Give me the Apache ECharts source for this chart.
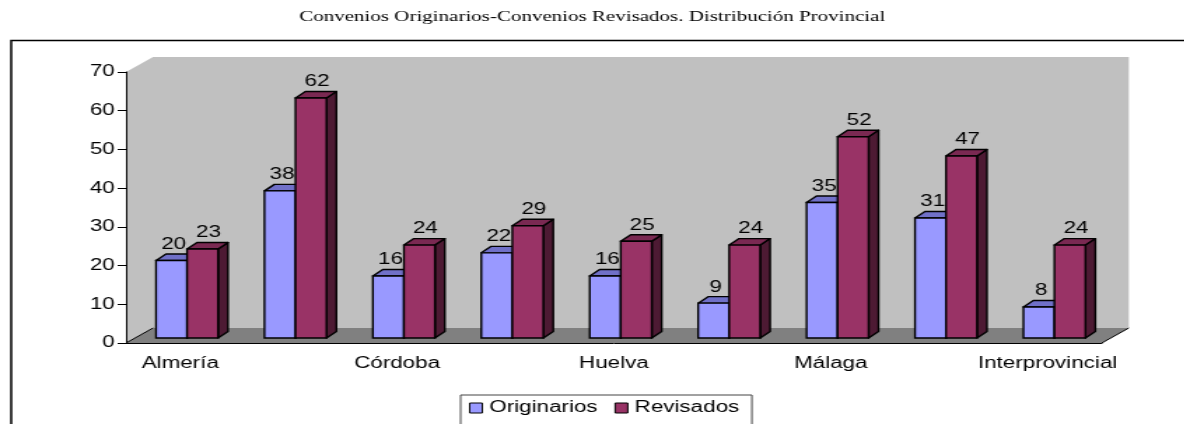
<!DOCTYPE html>
<html>
<head>
<meta charset="utf-8">
<script src="https://cdn.jsdelivr.net/npm/echarts@6/dist/echarts.min.js"></script>
<style>
  html, body { margin: 0; padding: 0; background: #fff; overflow: hidden; }
  /* the original picture is stretched horizontally, so draw narrow and stretch */
  #chart { width: 846px; height: 424px; transform: scaleX(1.4); transform-origin: 0 0; }
</style>
</head>
<body>
<div id="chart"></div>
<script>
var provincias = ['Almería', 'Cádiz', 'Córdoba', 'Granada', 'Huelva', 'Jaén', 'Málaga', 'Sevilla', 'Interprovincial']
var originarios = [20, 38, 16, 22, 16, 9, 35, 31, 8]
var revisados = [23, 62, 24, 29, 25, 24, 52, 47, 24]
var yMin = 0
var yMax = 70
var yStep = 10

var font = 'Liberation Sans, Arial, sans-serif'

// back wall + floor of the 3d box
function renderWall(params, api) {
  var cs = params.coordSys
  var x0 = cs.x
  var x1 = cs.x + cs.width
  var yt = cs.y
  var yb = cs.y + cs.height
  var dx = 19.3
  var dy = -15
  return {
    type: 'group',
    children: [
      { type: 'polygon', shape: { points: [[x0, yt], [x0 + dx, yt + dy], [x1 + dx, yt + dy], [x1 + dx, yb + dy], [x1, yb], [x0, yb]] }, style: { fill: '#c0c0c0' } },
      { type: 'polygon', shape: { points: [[x0, yb], [x0 + dx, yb + dy], [x1 + dx, yb + dy], [x1, yb]] }, style: { fill: '#808080' } },
      { type: 'polyline', shape: { points: [[x0, yb], [x0 + dx, yb + dy]] }, style: { stroke: '#000', lineWidth: 1, fill: null } },
      { type: 'polyline', shape: { points: [[x1, yb], [x1 + dx, yb + dy]] }, style: { stroke: '#000', lineWidth: 1, fill: null } }
    ]
  }
}

function barRenderer(offset, front, top, side, labelShift) {
  return function(params, api) {
    var i = api.value(0)
    var v = api.value(1)
    var base = api.coord([i, 0])
    var band = api.size([1, 0])[0]
    var w = band * 0.286
    var x = base[0] - band / 2 + band * offset
    var yb = base[1] - 5
    var yt = api.coord([i, v])[1] - 5
    var dx = 7.1
    var dy = -6.5
    return {
      type: 'group',
      children: [
        {
          type: 'polygon',
          shape: { points: [[x + w, yb], [x + w + dx, yb + dy], [x + w + dx, yt + dy], [x + w, yt]] },
          style: { fill: side, stroke: '#000', lineWidth: 1.4, lineJoin: 'round' }
        },
        {
          type: 'polygon',
          shape: { points: [[x, yt], [x + w, yt], [x + w + dx, yt + dy], [x + dx, yt + dy]] },
          style: { fill: top, stroke: '#000', lineWidth: 1.4, lineJoin: 'round' }
        },
        {
          type: 'rect',
          shape: { x: x, y: yt, width: w, height: yb - yt },
          style: { fill: front, stroke: '#000', lineWidth: 1.4 }
        },
        {
          type: 'text',
          style: {
            text: String(v),
            x: x + w / 2 + labelShift,
            y: yt - 8,
            fill: '#000',
            font: '16px ' + font,
            align: 'center',
            verticalAlign: 'bottom',
            textAlign: 'center',
            textVerticalAlign: 'bottom'
          }
        }
      ]
    }
  }
}

var chart = echarts.init(document.getElementById('chart'))

chart.setOption({
  animation: false,
  title: {
    text: 'Convenios Originarios-Convenios Revisados. Distribución Provincial',
    left: 'center',
    top: 5,
    textStyle: { fontFamily: 'Liberation Serif, Times New Roman, serif', fontSize: 15, fontWeight: 'normal', color: '#000' }
  },
  graphic: [{
    type: 'polyline',
    shape: { points: [[8, 424], [8, 40.5], [846, 40.5]] },
    style: { stroke: '#000', lineWidth: 1.5, fill: null }
  }],
  legend: {
    data: [{ name: 'Originarios', icon: 'rect' }, { name: 'Revisados', icon: 'rect' }],
    left: 329,
    top: 395,
    padding: [5, 9, 9, 6],
    borderColor: '#444',
    borderWidth: 1,
    itemWidth: 9,
    itemHeight: 10,
    itemGap: 12,
    itemStyle: { borderColor: '#000', borderWidth: 1 },
    textStyle: { fontFamily: font, fontSize: 16, color: '#000' }
  },
  grid: {
    left: 90,
    right: 59,
    top: 72,
    bottom: 81
  },
  xAxis: {
    type: 'category',
    data: provincias,
    boundaryGap: true,
    axisLine: { lineStyle: { color: '#000', width: 1 } },
    axisTick: { interval: 0, length: 5, lineStyle: { color: '#000' } },
    axisLabel: { interval: 1, margin: 13, color: '#000', fontFamily: font, fontSize: 16 },
    splitLine: { show: false }
  },
  yAxis: {
    type: 'value',
    min: yMin,
    max: yMax,
    interval: yStep,
    axisLine: { show: true, lineStyle: { color: '#000', width: 1 } },
    axisTick: { show: true, length: 6, lineStyle: { color: '#000' } },
    axisLabel: { margin: 8, color: '#000', fontFamily: font, fontSize: 16 },
    splitLine: { show: false }
  },
  series: [
    {
      name: 'wall',
      type: 'custom',
      z: -1,
      silent: true,
      renderItem: renderWall,
      data: [[0, 0]]
    },
    {
      name: 'Originarios',
      type: 'custom',
      itemStyle: { color: '#9999ff' },
      renderItem: barRenderer(0.277, '#9999ff', '#7070c8', '#5050a0', 1.5),
      encode: { x: 0, y: 1 },
      data: originarios.map(function(v, i) { return [i, v] })
    },
    {
      name: 'Revisados',
      type: 'custom',
      itemStyle: { color: '#993366' },
      renderItem: barRenderer(0.563, '#993366', '#7a2952', '#4d1a33', 4.3),
      encode: { x: 0, y: 1 },
      data: revisados.map(function(v, i) { return [i, v] })
    }
  ]
})
</script>
</body>
</html>
